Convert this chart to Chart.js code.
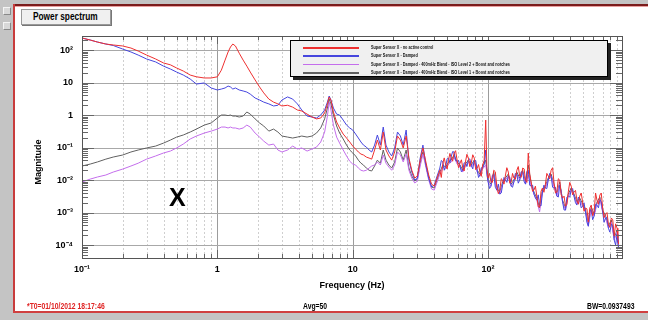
<!DOCTYPE html>
<html>
<head>
<meta charset="utf-8">
<script src="https://cdn.jsdelivr.net/npm/chart.js@4.4.1/dist/chart.umd.min.js"></script>
<style>
  body { margin: 0; background: #fff; }
  #wrap { position: relative; width: 648px; height: 320px; overflow: hidden; background: #fff;
          font-family: "Liberation Sans Narrow", "Liberation Sans", sans-serif; font-weight: bold; }
  .abs { position: absolute; }
  .narrow { display: inline-block; transform-origin: 0 50%; white-space: nowrap; }
  #topStrip { left: 0; top: 0; width: 648px; height: 4px; background: #c4c4c4; }
  #topLine { left: 13px; top: 4px; width: 635px; height: 2px; background: #7a1c1c; }
  #topLine2 { left: 13px; top: 6px; width: 635px; height: 1px; background: #eaa0a0; }
  #leftStrip { left: 0; top: 0; width: 13px; height: 320px; background: #c4c4c4; }
  #leftLine { left: 13px; top: 4px; width: 2px; height: 309px; background: #c83c3c; }
  #botLine { left: 13px; top: 311px; width: 635px; height: 2px; background: #d04040; }
  #botStrip { left: 0; top: 313px; width: 648px; height: 7px; background: #c4c4c4; }
  .btn { left: 3px; width: 6px; height: 6px; background: #d8d8d8; border: 1px solid #f4f4f4;
         border-right-color: #888; border-bottom-color: #888; }
  #titleBox { left: 21px; top: 9px; width: 88px; height: 14px; background: #f0f0f0; border: 1px solid #999;
              box-shadow: 1px 1px 0 #777; font-size: 10px; line-height: 14px; color: #000; }
  #titleBox .narrow { position: absolute; left: 11px; top: 0; transform: scaleX(0.83); }
  #bigX { left: 169px; top: 183px; font-family: "Liberation Sans", Arial, sans-serif; font-size: 25px; color: #000; }
  .foot { top: 301px; font-size: 8.5px; line-height: 10px; }
  .foot .narrow { transform: scaleX(0.8); }
  #t0 { left: 27px; color: #e02424; }
  #avg { left: 303px; color: #000; }
  #bw { left: 587px; color: #000; }
  canvas { position: absolute; left: 0; top: 0; }
  #legend { left: 290px; top: 40px; width: 316px; height: 35px; background: #f0f0f0; border: 1px solid #000;
            box-shadow: 3px 3px 0 #222; }
  .lrow { position: absolute; left: 0; height: 8px; width: 316px; }
  .lline { position: absolute; left: 12px; top: 3px; width: 56px; height: 1.5px; }
  .ltext { position: absolute; left: 80px; top: 0; font-size: 4.6px; line-height: 8px; white-space: nowrap;
           color: #111; transform: scaleX(0.83); transform-origin: 0 50%; }
</style>
</head>
<body>
<div id="wrap">
  <div id="leftStrip" class="abs"></div>
  <div id="topStrip" class="abs"></div>
  <div id="topLine" class="abs"></div>
  <div id="topLine2" class="abs"></div>
  <div id="leftLine" class="abs"></div>
  <div id="botLine" class="abs"></div>
  <div id="botStrip" class="abs"></div>
  <div class="abs btn" style="top:7px"></div>
  <div class="abs btn" style="top:22px"></div>
  <div id="titleBox" class="abs"><span class="narrow">Power spectrum</span></div>
  <canvas id="spec" width="648" height="320"></canvas>
  <div id="bigX" class="abs">X</div>
  <div id="t0" class="abs foot"><span class="narrow">*T0=01/10/2012 18:17:46</span></div>
  <div id="avg" class="abs foot"><span class="narrow">Avg=50</span></div>
  <div id="bw" class="abs foot"><span class="narrow">BW=0.0937493</span></div>
  <div id="legend" class="abs"></div>
</div>
<script>
// frequency points (Hz)
const freqLow = [0.1, 0.115, 0.13, 0.15, 0.17, 0.2, 0.23, 0.26, 0.3, 0.35,
  0.4, 0.45, 0.5, 0.56, 0.63, 0.7, 0.8, 0.9, 1.0, 1.07,
  1.14, 1.2, 1.25, 1.3, 1.36, 1.45, 1.55, 1.65, 1.75, 1.9,
  2.05, 2.2, 2.4, 2.6, 2.8, 3.0, 3.3, 3.6, 3.9, 4.2,
  4.6, 5.0, 5.4, 5.8, 6.2, 6.5, 6.7, 6.9, 7.2, 7.6,
  8.0, 8.5, 9.0, 9.5, 10];
const freqHigh = [10.5, 11, 11.5, 12, 12.6, 13.2, 13.8, 14.5, 15.2, 16,
  16.8, 17.6, 18.5, 19.4, 20.4, 21.4, 22.5, 23.6, 24.8, 26,
  27.3, 28.7, 30, 31.5, 33, 34.7, 36.4, 38.2, 40, 42,
  44, 46.3, 48.6, 51, 53.5, 56, 59, 62, 65, 68,
  71.5, 75, 79, 83, 87, 91, 96, 100, 105, 110,
  116, 122, 128, 134, 141, 148, 155, 163, 171, 180,
  189, 198, 208, 218, 229, 240, 252, 265, 278, 292,
  307, 322, 338, 355, 373, 391, 411, 431, 453, 475,
  499, 524, 550, 578, 607, 637, 669, 702, 737, 774,
  813, 854, 897, 920];
// extra in-between points for the two top traces (noise band)
const freqMid = [45.1, 47.4, 49.8, 52.2, 54.7, 57.5, 60.5, 63.5, 66.5, 69.7,
  73.2, 77, 81, 85, 89, 93.5, 98, 102.5, 107.5, 113,
  119, 125, 131, 137.5, 144.5, 151.5, 159, 167, 175.5, 184.5,
  193.5, 203, 213, 223.5, 234.5, 246, 258.5, 271.5, 285, 299.5,
  314.5, 330, 346.5, 364, 382, 401, 421, 442, 464, 487,
  511, 537, 564, 592, 622, 653, 685, 719, 755, 793,
  833, 875, 908];

// Super Sensor X - no active control
const redLow = [234, 203, 176, 153, 143, 133, 115, 93, 70, 53,
  40, 35, 28, 22.6, 17, 15, 13.8, 13.8, 15, 24,
  49, 87, 124, 153, 133, 80, 49, 32, 21, 12,
  7.3, 4.8, 3.1, 2.5, 2.2, 1.9, 2.0, 1.75, 1.43, 1.33,
  1.07, 0.87, 0.76, 0.81, 1.15, 2.2, 3.6, 2.9, 1.24, 0.61,
  0.40, 0.26, 0.196, 0.148, 0.111];
const redHigh = [0.090, 0.073, 0.063, 0.059, 0.051, 0.0475, 0.044, 0.084, 0.17, 0.084,
  0.30, 0.084, 0.055, 0.041, 0.073, 0.226, 0.17, 0.097, 0.226, 0.0475,
  0.020, 0.0115, 0.0133, 0.041, 0.097, 0.036, 0.0143, 0.0075, 0.0065, 0.0115,
  0.020, 0.033, 0.029, 0.041, 0.0475, 0.068, 0.041, 0.033, 0.0234, 0.036,
  0.0475, 0.033, 0.0475, 0.0234, 0.0176, 0.029, 0.70, 0.0115, 0.0087, 0.020,
  0.0065, 0.0049, 0.010, 0.0133, 0.0176, 0.0087, 0.0115, 0.020, 0.0133, 0.0234,
  0.010, 0.068, 0.0087, 0.0049, 0.0032, 0.00148, 0.0057, 0.0075, 0.0133, 0.020,
  0.0081, 0.0043, 0.010, 0.0028, 0.00158, 0.0043, 0.0065, 0.0043, 0.0024, 0.0032,
  0.0021, 0.00138, 0.00051, 0.0017, 0.00104, 0.0024, 0.00345, 0.00138, 0.0009, 0.00044,
  0.00068, 0.00019, 0.00033, 0.000107];
const redMid = [0.012, 0.048, 0.022, 0.066, 0.038, 0.080, 0.024, 0.042, 0.019, 0.062,
  0.026, 0.060, 0.021, 0.030, 0.013, 0.040, 0.022, 0.016, 0.0085, 0.018,
  0.0038, 0.011, 0.0075, 0.024, 0.0080, 0.016, 0.0105, 0.026, 0.012, 0.022,
  0.0085, 0.015, 0.0045, 0.0065, 0.0015, 0.0045, 0.0042, 0.016, 0.011, 0.024,
  0.0040, 0.011, 0.0035, 0.0032, 0.0018, 0.0085, 0.0035, 0.0048, 0.0018, 0.0040,
  0.0011, 0.0013, 0.0014, 0.0008, 0.0040, 0.0018, 0.0040, 0.0007, 0.0010, 0.00035,
  0.00060, 0.00045, 0.00017];

// Super Sensor X - Damped
const blueLow = [234, 203, 176, 153, 138, 107, 87, 70, 53, 43,
  32, 26, 21, 17, 12.8, 9.0, 9.7, 6.8, 5.9, 6.3,
  6.8, 7.8, 7.3, 6.3, 6.8, 5.9, 5.5, 5.1, 4.4, 3.34,
  2.9, 2.5, 2.2, 1.9, 2.0, 2.9, 3.6, 3.1, 2.2, 1.43,
  0.93, 0.87, 0.81, 1.0, 1.43, 2.5, 3.85, 2.9, 1.64, 1.07,
  1.0, 0.70, 0.49, 0.40, 0.345];
const blueHigh = [0.26, 0.196, 0.148, 0.119, 0.1035, 0.084, 0.073, 0.119, 0.243, 0.119,
  0.427, 0.119, 0.073, 0.055, 0.097, 0.30, 0.226, 0.119, 0.345, 0.041,
  0.0176, 0.010, 0.0115, 0.0475, 0.119, 0.029, 0.0115, 0.0061, 0.0070, 0.0133,
  0.0234, 0.036, 0.027, 0.0475, 0.055, 0.073, 0.038, 0.027, 0.020, 0.033,
  0.041, 0.029, 0.041, 0.020, 0.0143, 0.0234, 0.084, 0.0087, 0.0065, 0.0153,
  0.0049, 0.0037, 0.0070, 0.010, 0.0133, 0.0065, 0.0087, 0.0153, 0.010, 0.0176,
  0.0075, 0.020, 0.0065, 0.0037, 0.0024, 0.0017, 0.0043, 0.0057, 0.010, 0.0133,
  0.0057, 0.0032, 0.0070, 0.0021, 0.00119, 0.0032, 0.0049, 0.0032, 0.0017, 0.0024,
  0.00158, 0.00104, 0.00038, 0.00119, 0.00078, 0.0017, 0.0024, 0.00104, 0.00068, 0.00033,
  0.00044, 0.000143, 0.00022, 0.000081];
const blueMid = [0.040, 0.020, 0.045, 0.034, 0.075, 0.040, 0.040, 0.018, 0.034, 0.026,
  0.045, 0.022, 0.040, 0.012, 0.024, 0.030, 0.015, 0.0055, 0.014, 0.0060,
  0.0075, 0.0040, 0.012, 0.0085, 0.012, 0.0060, 0.016, 0.0080, 0.018, 0.0090,
  0.018, 0.0070, 0.0070, 0.0028, 0.0035, 0.0016, 0.0070, 0.0055, 0.016, 0.0060,
  0.0060, 0.0030, 0.0045, 0.0012, 0.0030, 0.0030, 0.0055, 0.0020, 0.0030, 0.0014,
  0.0020, 0.0005, 0.0012, 0.0006, 0.0018, 0.0014, 0.0022, 0.0005, 0.0007, 0.00025,
  0.00040, 0.00010, 0.00012];

// ... - ISO Level 2 + Boost and notches
const violetLow = [0.0087, 0.0107, 0.0124, 0.0143, 0.0176, 0.0218, 0.027, 0.033, 0.044, 0.055,
  0.068, 0.078, 0.097, 0.128, 0.183, 0.226, 0.279, 0.32, 0.37, 0.427,
  0.427, 0.40, 0.427, 0.40, 0.40, 0.37, 0.40, 0.49, 0.427, 0.279,
  0.21, 0.158, 0.119, 0.128, 0.084, 0.073, 0.084, 0.111, 0.090, 0.097,
  0.078, 0.090, 0.1035, 0.148, 0.30, 0.93, 2.5, 1.43, 0.49, 0.21,
  0.137, 0.084, 0.055, 0.038, 0.031];
const violetHigh = [0.029, 0.0234, 0.020, 0.019, 0.020, 0.0234, 0.027, 0.029, 0.036, 0.029,
  0.059, 0.033, 0.025, 0.020, 0.029, 0.073, 0.059, 0.036, 0.063, 0.020,
  0.0115, 0.0081, 0.0093, 0.027, 0.063, 0.025, 0.010, 0.0053, 0.0049, 0.0087,
  0.0153, 0.025, 0.0218, 0.031, 0.036, 0.051, 0.031, 0.025, 0.0176, 0.027,
  0.036, 0.025, 0.036, 0.0176, 0.0133, 0.0218, 0.029, 0.0087, 0.0065, 0.0153,
  0.0049, 0.0037, 0.0075, 0.010, 0.0133, 0.0065, 0.0087, 0.0153, 0.010, 0.0176,
  0.0075, 0.0143, 0.0065, 0.0037, 0.0024, 0.00104, 0.0043, 0.0057, 0.010, 0.0133,
  0.0061, 0.0032, 0.0075, 0.0021, 0.00119, 0.0032, 0.0049, 0.0032, 0.00183, 0.0024,
  0.00158, 0.00104, 0.00038, 0.00128, 0.00078, 0.00183, 0.0026, 0.00104, 0.00068, 0.00033,
  0.00051, 0.000143, 0.00025, 0.000081];

// ... - ISO Level 1 + Boost and notches
const grayLow = [0.027, 0.031, 0.036, 0.044, 0.051, 0.059, 0.073, 0.084, 0.097, 0.111,
  0.137, 0.17, 0.21, 0.243, 0.30, 0.37, 0.49, 0.57, 0.81, 1.0,
  1.0, 0.96, 1.0, 0.93, 0.93, 0.87, 0.93, 1.24, 1.07, 0.76,
  0.57, 0.46, 0.32, 0.37, 0.30, 0.226, 0.21, 0.196, 0.21, 0.226,
  0.21, 0.226, 0.279, 0.40, 0.76, 1.64, 3.1, 2.2, 1.0, 0.46,
  0.279, 0.183, 0.119, 0.084, 0.068];
const grayHigh = [0.055, 0.041, 0.033, 0.029, 0.0234, 0.020, 0.019, 0.027, 0.041, 0.033,
  0.084, 0.041, 0.029, 0.0234, 0.036, 0.097, 0.073, 0.041, 0.084, 0.0234,
  0.0133, 0.0093, 0.0107, 0.033, 0.073, 0.029, 0.0115, 0.0061, 0.0057, 0.010,
  0.0176, 0.029, 0.025, 0.036, 0.041, 0.059, 0.036, 0.029, 0.020, 0.031,
  0.041, 0.029, 0.041, 0.020, 0.0153, 0.025, 0.041, 0.010, 0.0075, 0.0176,
  0.0057, 0.0043, 0.0087, 0.0115, 0.0153, 0.0075, 0.010, 0.0176, 0.0115, 0.020,
  0.0087, 0.029, 0.0075, 0.0043, 0.0028, 0.00138, 0.0049, 0.0065, 0.0115, 0.0153,
  0.0070, 0.0037, 0.0087, 0.0024, 0.00138, 0.0037, 0.0057, 0.0037, 0.0021, 0.0028,
  0.00183, 0.00119, 0.00044, 0.00148, 0.0009, 0.0021, 0.0030, 0.00119, 0.00078, 0.00038,
  0.00059, 0.000164, 0.00029, 0.000093];

const seriesNames = [
  "Super Sensor X - no active control",
  "Super Sensor X - Damped",
  "Super Sensor X - Damped - 400mHz Blend - ISO Level 2 + Boost and notches",
  "Super Sensor X - Damped - 400mHz Blend - ISO Level 1 + Boost and notches"
];
const seriesColors = ["rgb(238,48,48)", "rgb(70,70,222)", "rgb(196,110,236)", "rgb(96,96,96)"];
const freqs = freqLow.concat(freqHigh);
const seriesFreqs = [freqs.concat(freqMid), freqs.concat(freqMid), freqs, freqs];
const seriesValues = [
  redLow.concat(redHigh, redMid),
  blueLow.concat(blueHigh, blueMid),
  violetLow.concat(violetHigh),
  grayLow.concat(grayHigh)
];

const xTickValues = [0.1, 1, 10, 100];
const xTickLabels = ["10\u207B\u00B9", "1", "10", "10\u00B2"];
const yTickValues = [0.0001, 0.001, 0.01, 0.1, 1, 10, 100];
const yTickLabels = ["10\u207B\u2074", "10\u207B\u00B3", "10\u207B\u00B2", "10\u207B\u00B9", "1", "10", "10\u00B2"];

const xMin = 0.1, xMax = 975;
const yMin = 0.00004, yMax = 270;

//############################
//###### legend box   ########
//############################
const legendEl = document.getElementById("legend");
seriesNames.forEach(function (name, i) {
  const row = document.createElement("div");
  row.className = "lrow";
  row.style.top = (3 + i * 8.4) + "px";
  row.innerHTML = "<div class='lline' style='background:" + seriesColors[i] + "'></div>" +
    "<div class='ltext'>" + name + "</div>";
  legendEl.appendChild(row);
});

//############################
//###### grid + frame ########
//############################
const mults = [1, 2, 3, 4, 5, 6, 7, 8, 9];
function minorValues(decades, lo, hi) {
  const out = [];
  decades.forEach(function (d) {
    mults.forEach(function (m) {
      const v = d * m;
      if (v >= lo && v <= hi) out.push({ v: v, major: m === 1 });
    });
  });
  return out;
}
const xMinor = minorValues([0.1, 1, 10, 100], xMin, xMax);
const yMinor = minorValues([0.00001, 0.0001, 0.001, 0.01, 0.1, 1, 10, 100], yMin, yMax);

const fontFamily = "'Liberation Sans Narrow', 'Liberation Sans', sans-serif";

const frameGrid = {
  id: "frameGrid",
  beforeDatasetsDraw(chart) {
    const ctx = chart.ctx, a = chart.chartArea, x = chart.scales.x, y = chart.scales.y;
    ctx.save();
    ctx.lineWidth = 1;
    xMinor.forEach(function (t) {
      const px = Math.round(x.getPixelForValue(t.v)) + 0.5;
      ctx.strokeStyle = t.major ? "#9c9c9c" : "#cfcfcf";
      ctx.setLineDash(t.major ? [] : [2, 2]);
      ctx.beginPath(); ctx.moveTo(px, a.top); ctx.lineTo(px, a.bottom); ctx.stroke();
    });
    ctx.setLineDash([]);
    yMinor.forEach(function (t) {
      if (!t.major) return;
      const py = Math.round(y.getPixelForValue(t.v)) + 0.5;
      ctx.strokeStyle = "#a8a8a8";
      ctx.beginPath(); ctx.moveTo(a.left, py); ctx.lineTo(a.right, py); ctx.stroke();
    });
    ctx.restore();
  },
  afterDatasetsDraw(chart) {
    const ctx = chart.ctx, a = chart.chartArea, x = chart.scales.x, y = chart.scales.y;
    ctx.save();
    ctx.lineWidth = 1;
    ctx.strokeStyle = "#666";
    xMinor.forEach(function (t) {
      const px = Math.round(x.getPixelForValue(t.v)) + 0.5;
      const len = t.major ? 8 : 4;
      ctx.beginPath();
      ctx.moveTo(px, a.top); ctx.lineTo(px, a.top + len);
      ctx.moveTo(px, a.bottom); ctx.lineTo(px, a.bottom - len);
      ctx.stroke();
    });
    yMinor.forEach(function (t) {
      const py = Math.round(y.getPixelForValue(t.v)) + 0.5;
      const len = t.major ? 12 : 6;
      ctx.beginPath();
      ctx.moveTo(a.left, py); ctx.lineTo(a.left + len, py);
      ctx.moveTo(a.right, py); ctx.lineTo(a.right - len, py);
      ctx.stroke();
    });
    ctx.strokeStyle = "#555";
    ctx.strokeRect(Math.round(a.left) + 0.5, Math.round(a.top) + 0.5,
      Math.round(a.right - a.left), Math.round(a.bottom - a.top));
    // y axis title
    ctx.translate(39, 162);
    ctx.rotate(-Math.PI / 2);
    ctx.fillStyle = "#000";
    ctx.font = "bold 9px " + fontFamily;
    ctx.textAlign = "center";
    ctx.textBaseline = "middle";
    ctx.fillText("Magnitude", 0, 0);
    ctx.restore();
  }
};

const config = {
  type: "line",
  data: {
    datasets: seriesNames.map(function (name, i) {
      const pts = seriesFreqs[i].map(function (f, j) { return { x: f, y: seriesValues[i][j] }; });
      pts.sort(function (p, q) { return p.x - q.x; });
      return {
        label: name,
        data: pts,
        borderColor: seriesColors[i],
        backgroundColor: seriesColors[i],
        borderWidth: 1,
        pointRadius: 0,
        tension: 0,
        fill: false
      };
    })
  },
  options: {
    responsive: false,
    animation: false,
    events: [],
    layout: { padding: { left: 45, top: 36, right: 26, bottom: 25 } },
    plugins: { legend: { display: false }, tooltip: { enabled: false } },
    scales: {
      x: {
        type: "logarithmic",
        min: xMin,
        max: xMax,
        grid: { display: false, drawTicks: false },
        border: { display: false },
        afterBuildTicks: function (scale) {
          scale.ticks = xTickValues.map(function (v) { return { value: v }; });
        },
        afterFit: function (scale) {
          scale.height = 37;
          scale.paddingLeft = 0;
          scale.paddingRight = 0;
        },
        ticks: {
          autoSkip: false,
          maxRotation: 0,
          padding: 6,
          color: "#000",
          font: { family: fontFamily, size: 9, weight: "bold" },
          callback: function (value, index) { return xTickLabels[index]; }
        },
        title: {
          display: true,
          text: "Frequency (Hz)",
          color: "#000",
          font: { family: fontFamily, size: 9, weight: "bold" },
          padding: { top: 0, bottom: 4 }
        }
      },
      y: {
        type: "logarithmic",
        min: yMin,
        max: yMax,
        grid: { display: false, drawTicks: false },
        border: { display: false },
        afterBuildTicks: function (scale) {
          scale.ticks = yTickValues.map(function (v) { return { value: v }; });
        },
        afterFit: function (scale) {
          scale.width = 37;
          scale.paddingTop = 0;
          scale.paddingBottom = 0;
        },
        ticks: {
          autoSkip: false,
          padding: 9,
          color: "#000",
          font: { family: fontFamily, size: 9, weight: "bold" },
          callback: function (value, index) { return yTickLabels[index]; }
        }
      }
    }
  },
  plugins: [frameGrid]
};

const specChart = new Chart(document.getElementById("spec"), config);
</script>
</body>
</html>
